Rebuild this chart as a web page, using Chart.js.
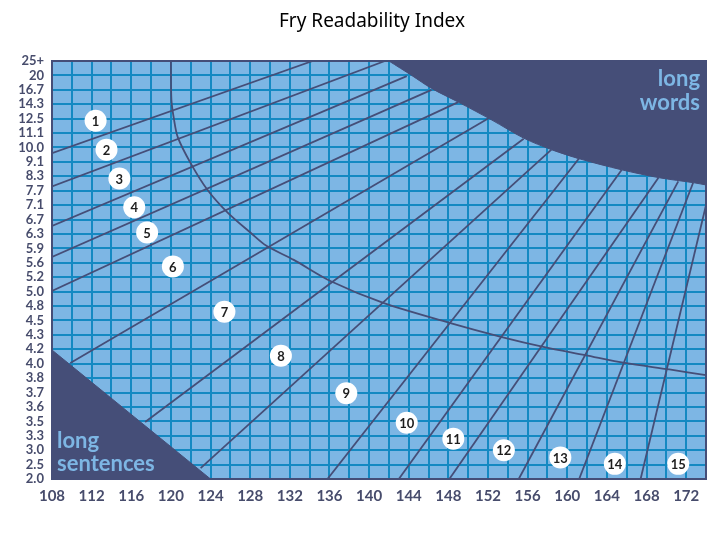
<!DOCTYPE html>
<html>
<head>
<meta charset="utf-8">
<title>Fry Readability Index</title>
<script src="https://cdn.jsdelivr.net/npm/chart.js@4"></script>
<style>
  html, body { margin: 0; padding: 0; background: #fff; }
</style>
</head>
<body>
<canvas id="fryChart" width="720" height="540"></canvas>
<script>
// axis labels (y runs bottom to top, one label per grid row)
const xLabelValues = [108, 112, 116, 120, 124, 128, 132, 136, 140, 144, 148, 152, 156, 160, 164, 168, 172];
const yLabels = ['2.0', '2.5', '3.0', '3.3', '3.5', '3.6', '3.7', '3.8', '4.0', '4.2',
                 '4.3', '4.5', '4.8', '5.0', '5.2', '5.6', '5.9', '6.3', '6.7', '7.1',
                 '7.7', '8.3', '9.1', '10.0', '11.1', '12.5', '14.3', '16.7', '20', '25+'];

// grade boundary lines: [syllables, row]
const gradeLines = [
    [[108, 22.6], [134.3, 29]],
    [[108, 20.3], [141.6, 29]],
    [[108, 17.55], [143.8, 27.95]],
    [[108, 15.4], [146.3, 27.0]],
    [[108, 13.05], [149.0, 26.15]],
    [[109.85, 8.05], [152.1, 25.05]],
    [[117.4, 3.95], [155.6, 23.6]],
    [[123.0, 0.75], [158.4, 22.85]],
    [[135.8, 0], [161.2, 22.25]],
    [[143.0, 0], [165.5, 21.45]],
    [[148.1, 0], [169.2, 20.9]],
    [[155.1, 0], [171.2, 20.65]],
    [[161.2, 0], [172.7, 20.55]],
    [[167.4, 0], [174, 19.0]]
];

// the long curve starting at 120 on top
const curve = [[120, 29], [120.05, 26.3], [120.3, 25.0], [120.7, 23.7], [122.0, 21.9], [123.7, 20.05],
               [125.7, 18.5], [128.1, 17.05], [129.6, 16.2], [132.4, 15.2], [136.2, 13.7], [141.5, 12.2],
               [148.3, 10.8], [153.4, 9.85], [157.7, 9.15], [161.8, 8.6], [165.8, 8.05], [170.3, 7.6], [174, 7.2]];

// dark areas
const longWords = [[142.0, 29], [144.3, 28.0], [146.3, 27.1], [149.0, 26.15], [152.4, 24.9], [155.6, 23.65],
                   [158.4, 22.85], [161.3, 22.2], [165.5, 21.45], [169.3, 20.9], [172.8, 20.55], [174, 20.4]];
const longSentences = [[108, 8.95], [124.0, 0]];

// grade number markers
const gradeNames = ['1', '2', '3', '4', '5', '6', '7', '8', '9', '10', '11', '12', '13', '14', '15'];
const gradeX = [112.4, 113.5, 114.8, 116.3, 117.6, 120.2, 125.4, 131.1, 137.7, 143.8, 148.5, 153.6, 159.3, 164.8, 171.2];
const gradeY = [24.85, 22.85, 20.85, 18.85, 17.1, 14.75, 11.6, 8.55, 5.95, 3.9, 2.8, 2.0, 1.5, 1.05, 1.05];

const navy = '#454e78';
const textNavy = '#474c6c';
const lightBlue = '#7db6e4';
const gridBlue = '#1489c2';

function toPoints(arr) {
    return arr.map(p => ({ x: p[0], y: p[1] }));
}

const datasets = [];
gradeLines.forEach(line => {
    datasets.push({ data: toPoints(line), borderColor: navy, borderWidth: 1.8, pointRadius: 0, fill: false, order: 3 });
});
datasets.push({ data: toPoints(curve), borderColor: navy, borderWidth: 1.8, pointRadius: 0, tension: 0.3, fill: false, order: 3 });
datasets.push({ data: toPoints(longWords), borderColor: navy, borderWidth: 1, backgroundColor: navy,
                pointRadius: 0, tension: 0.3, fill: 'end', order: 2 });
datasets.push({ data: toPoints(longSentences), borderColor: navy, borderWidth: 1, backgroundColor: navy,
                pointRadius: 0, fill: 'start', order: 2 });
datasets.push({ data: gradeX.map((x, i) => ({ x: x, y: gradeY[i] })), showLine: false,
                pointRadius: 11, pointBackgroundColor: '#ffffff', pointBorderWidth: 0, order: 1 });

const decorPlugin = {
    id: 'decor',
    beforeDraw(chart) {
        const { ctx, chartArea: a } = chart;
        ctx.save();
        ctx.fillStyle = lightBlue;
        ctx.fillRect(a.left, a.top, a.right - a.left, a.bottom - a.top);
        ctx.restore();
    },
    afterDatasetsDraw(chart) {
        const { ctx, chartArea: a, scales } = chart;
        ctx.save();
        // frame
        ctx.strokeStyle = navy;
        ctx.lineWidth = 2;
        ctx.strokeRect(a.left, a.top, a.right - a.left, a.bottom - a.top);

        // grade numbers
        ctx.fillStyle = '#1e1e1e';
        ctx.font = 'bold 13px Lato';
        ctx.textAlign = 'center';
        ctx.textBaseline = 'middle';
        gradeNames.forEach((name, i) => {
            ctx.fillText(name, scales.x.getPixelForValue(gradeX[i]), scales.y.getPixelForValue(gradeY[i]) + 1);
        });

        // area names
        ctx.fillStyle = lightBlue;
        ctx.font = 'bold 22px Lato';
        ctx.textAlign = 'right';
        ctx.textBaseline = 'alphabetic';
        ctx.fillText('long', a.right - 6, a.top + 25);
        ctx.fillText('words', a.right - 6, a.top + 49);
        ctx.textAlign = 'left';
        ctx.fillText('long', a.left + 5, a.bottom - 31);
        ctx.fillText('sentences', a.left + 5, a.bottom - 8);

        // title
        ctx.fillStyle = '#000000';
        ctx.font = '19px "Noto Sans"';
        ctx.textAlign = 'center';
        ctx.textBaseline = 'middle';
        ctx.fillText('Fry Readability Index', 372, 22);
        ctx.restore();
    }
};

// grid every 2 syllables, labels every 4
const xGridValues = [];
for (let v = 108; v <= 174; v += 2) xGridValues.push(v);

const fryChart = new Chart(document.getElementById('fryChart').getContext('2d'), {
    type: 'line',
    data: { datasets: datasets },
    options: {
        responsive: false,
        animation: false,
        layout: { padding: { top: 61, right: 14, bottom: 31, left: 0 } },
        plugins: {
            legend: { display: false },
            tooltip: { enabled: false }
        },
        scales: {
            x: {
                type: 'linear',
                min: 108,
                max: 174,
                afterFit: s => { s.height = 30; },
                afterBuildTicks: s => { s.ticks = xGridValues.map(v => ({ value: v })); },
                grid: { color: gridBlue, lineWidth: 2, drawTicks: false },
                border: { color: navy, width: 2 },
                ticks: {
                    autoSkip: false,
                    maxRotation: 0,
                    padding: 8,
                    color: textNavy,
                    font: { family: 'Lato', weight: 'bold', size: 15 },
                    callback: v => xLabelValues.includes(v) ? String(v) : ''
                }
            },
            y: {
                type: 'linear',
                min: 0,
                max: 29,
                afterFit: s => { s.width = 52; },
                grid: { color: gridBlue, lineWidth: 2, drawTicks: false },
                border: { color: navy, width: 2 },
                ticks: {
                    stepSize: 1,
                    autoSkip: false,
                    padding: 8,
                    color: textNavy,
                    font: { family: 'Lato', weight: 'bold', size: 13 },
                    callback: v => yLabels[v]
                }
            }
        }
    },
    plugins: [decorPlugin]
});
</script>
</body>
</html>
